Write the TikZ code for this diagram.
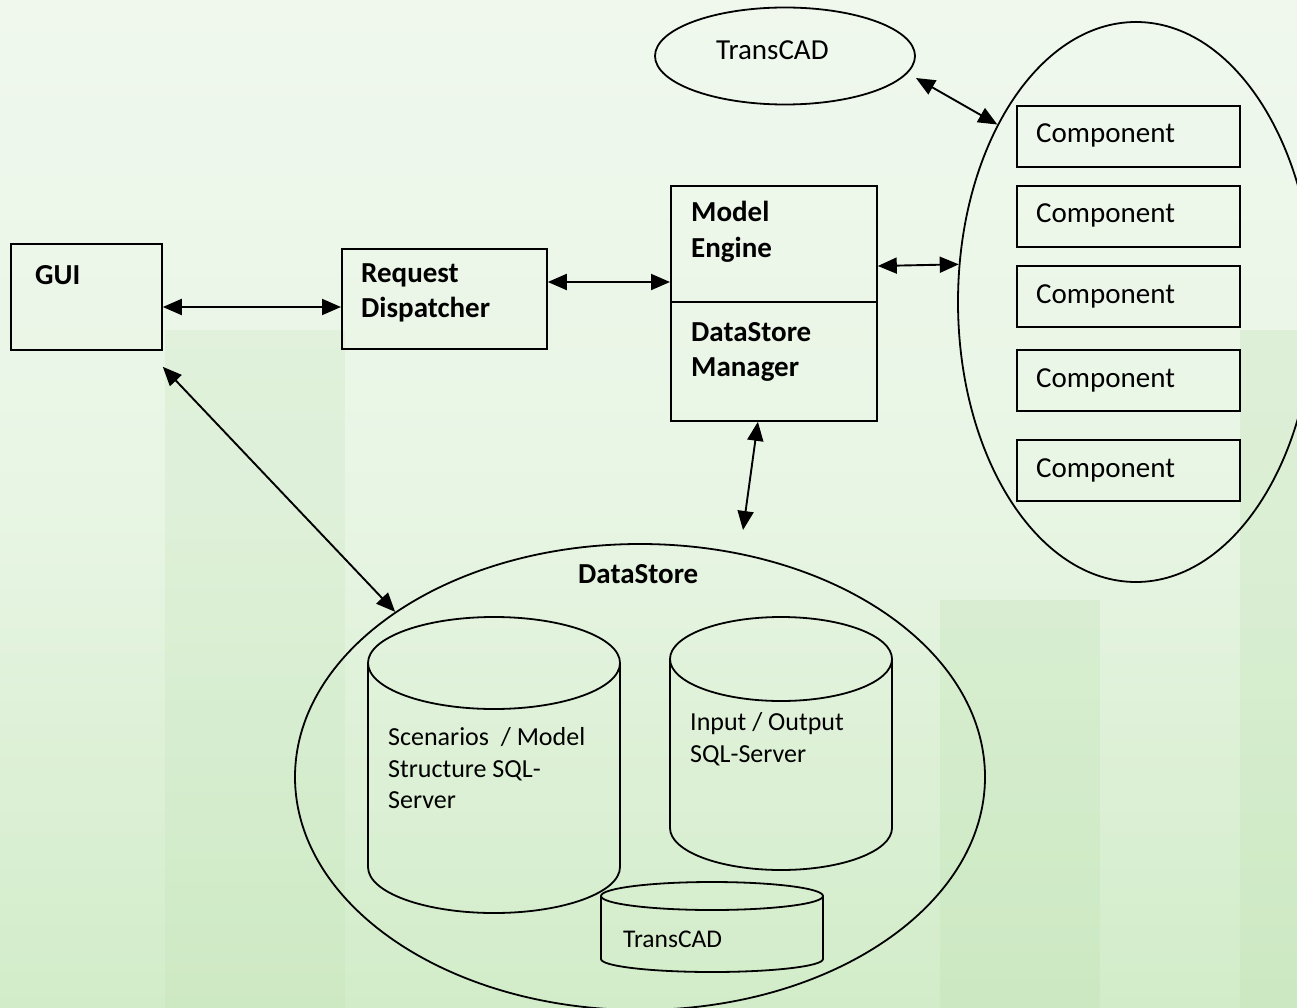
\documentclass[tikz,border=0pt]{standalone}
\usepackage{fontspec}
\setmainfont{Carlito}
\usetikzlibrary{arrows.meta,shapes.geometric,calc}
\definecolor{bgtop}{HTML}{F0F8EE}
\definecolor{bgmid}{HTML}{E8F5E4}
\definecolor{bgbot}{HTML}{D2ECC9}
\definecolor{bldg}{HTML}{BFE2B3}
\begin{document}
\begin{tikzpicture}[x=1pt,y=1pt,
  box/.style={draw=black,line width=1.8pt,rectangle,inner sep=0pt,anchor=north west},
  oval/.style={draw=black,line width=1.8pt,ellipse,inner sep=0pt},
  outl/.style={draw=black,line width=1.8pt},
  btxt/.style={font=\fontsize{29}{35}\selectfont\bfseries,inner sep=0pt,anchor=base west},
  ntxt/.style={font=\fontsize{29}{35}\selectfont,inner sep=0pt,anchor=base west},
  stxt/.style={font=\fontsize{26}{31}\selectfont,inner sep=0pt,anchor=base west},
  dbl/.style={{Triangle[length=19pt,width=16pt]}-{Triangle[length=19pt,width=16pt]},line width=1.9pt}]
% background
\shade[top color=bgtop,bottom color=bgbot,middle color=bgmid] (0,0) rectangle (1297,-1008);
\fill[bldg,opacity=0.22] (165,-330) rectangle (345,-1008);
\fill[bldg,opacity=0.3] (940,-600) rectangle (1100,-1008);
\fill[bldg,opacity=0.3] (1240,-330) rectangle (1297,-1008);
\clip (0,0) rectangle (1297,-1008);

% boxes
\node[box,minimum width=151pt,minimum height=106pt] (gui) at (10,-243) {};
\node[btxt] (guit) at (35,-284) {GUI};
\node[box,minimum width=205pt,minimum height=100pt] (rd) at (341,-248) {};
\node[btxt] (rdt1) at (361,-282) {Request};
\node[btxt] (rdt2) at (361,-317) {Dispatcher};
\node[box,minimum width=206pt,minimum height=116pt] (me) at (670,-185) {};
\node[btxt] (met1) at (691,-222) {Model};
\node[btxt] (met2) at (691,-258) {Engine};
\node[box,minimum width=206pt,minimum height=119pt] (dsm) at (670,-301) {};
\node[btxt] (dsmt1) at (691,-341) {DataStore};
\node[btxt] (dsmt2) at (691,-376) {Manager};

% TransCAD ellipse
\node[oval,minimum width=260pt,minimum height=97pt] (tc) at (785,-56) {};
\node[ntxt] (tct) at (716,-60) {TransCAD};

% components ellipse
\node[oval,minimum width=356pt,minimum height=560pt] (big) at (1136,-302) {};
\foreach \i/\t in {1/105,2/185,3/265,4/349,5/439}{
  \node[box,minimum width=223pt,minimum height=61pt] (c\i) at (1016,-\t) {};
  \node[ntxt] (ct\i) at ([shift={(20pt,-38pt)}]c\i.north west) {Component};
}

% DataStore
\node[oval,minimum width=690pt,minimum height=466pt] (ds) at (640,-777) {};
\node[btxt] (dst) at (578,-583) {DataStore};

% cylinder 1
\draw[outl] (494,-663) ellipse [x radius=126, y radius=46];
\draw[outl] (368,-663) -- (368,-867) arc[start angle=180,end angle=360,x radius=126,y radius=46] -- (620,-663);
\node[stxt] (s1) at (388,-745) {Scenarios\ \ / Model};
\node[stxt] (s2) at (388,-777) {Structure SQL-};
\node[stxt] (s3) at (388,-808) {Server};
% cylinder 2
\draw[outl] (781,-659) ellipse [x radius=111, y radius=42];
\draw[outl] (670,-659) -- (670,-828) arc[start angle=180,end angle=360,x radius=111,y radius=42] -- (892,-659);
\node[stxt] (io1) at (690,-730) {Input / Output};
\node[stxt] (io2) at (690,-762) {SQL-Server};
% cylinder 3
\draw[outl] (712,-896) ellipse [x radius=111, y radius=14];
\draw[outl] (601,-896) -- (601,-959) arc[start angle=180,end angle=360,x radius=111,y radius=13] -- (823,-896);
\node[font=\fontsize{25.5}{30}\selectfont,inner sep=0pt,anchor=base west] (tc2) at (623,-947) {TransCAD};

% connectors
\coordinate (h1) at (0,-307);
\coordinate (h2) at (0,-282);
\coordinate (h3) at (0,-266);
\coordinate (dsa) at (743,-530);
\draw[dbl] (gui.east |- h1) -- (rd.west |- h1);
\draw[dbl] (rd.east |- h2) -- (me.west |- h2);
\draw[dbl] (me.east |- h3) -- (big.168.5);
\draw[dbl] ([yshift=-22pt]tc.east) -- (big.128);
\draw[dbl] ([xshift=-16pt]dsm.south) -- (dsa);
\draw[dbl] ([yshift=-16pt]gui.south east) -- (ds.146);
\end{tikzpicture}
\end{document}
